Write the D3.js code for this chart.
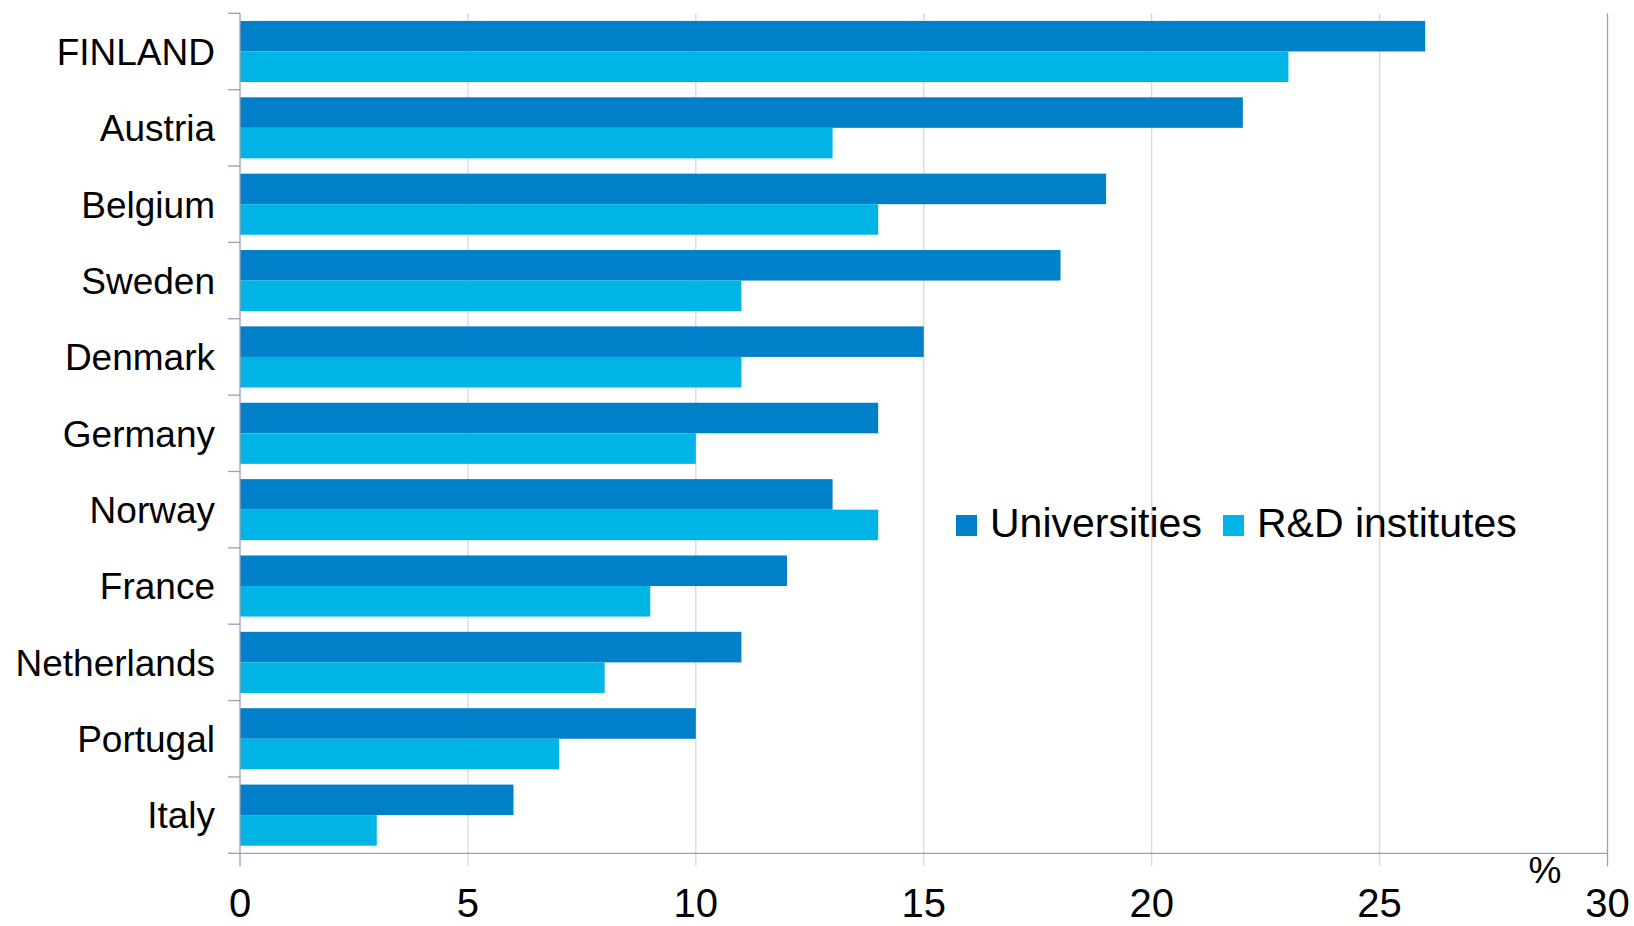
<!DOCTYPE html>
<html>
<head>
<meta charset="utf-8">
<script src="https://cdn.jsdelivr.net/npm/d3@7"></script>
<style>
  html, body { margin: 0; padding: 0; background: #ffffff; }
  svg { display: block; }
  text { font-family: "Liberation Sans", Arial, sans-serif; fill: #000; }
</style>
</head>
<body>
<svg id="chart" width="1634" height="926"></svg>
<script>
const categories = ["FINLAND", "Austria", "Belgium", "Sweden", "Denmark", "Germany", "Norway", "France", "Netherlands", "Portugal", "Italy"];
const universities = [26, 22, 19, 18, 15, 14, 13, 12, 11, 10, 6];
const rdInstitutes = [23, 13, 14, 11, 11, 10, 14, 9, 8, 7, 3];
const seriesNames = ["Universities", "R&D institutes"];
const xTicks = [0, 5, 10, 15, 20, 25, 30];
const unitLabel = "%";

(function () {
const colors = ["#0080C8", "#00B5E5"];

const svg = d3.select("#chart");
const mLeft = 240, mRight = 1607.5, mTop = 13.3, mBottom = 853.3;

const x = d3.scaleLinear().domain([0, 30]).range([mLeft, mRight]);
const y = d3.scaleBand().domain(categories).range([mTop, mBottom]).paddingInner(0.2).paddingOuter(0.1);
const ySub = d3.scaleBand().domain(seriesNames).range([0, y.bandwidth()]);

// vertical gridlines
svg.append("g").selectAll("line").data(xTicks.filter(d => d > 0 && d < 30)).join("line")
  .attr("x1", d => x(d)).attr("x2", d => x(d))
  .attr("y1", mTop).attr("y2", mBottom + 13)
  .attr("stroke", "#D3D8E6").attr("stroke-width", 1.3);

// right edge line at 30
svg.append("line")
  .attr("x1", x(30)).attr("x2", x(30)).attr("y1", mTop).attr("y2", mBottom + 13)
  .attr("stroke", "#98A0BC").attr("stroke-width", 1.3);

// bars
const data = categories.map((c, i) => ({ c, vals: [universities[i], rdInstitutes[i]] }));
const groups = svg.append("g").selectAll("g").data(data).join("g")
  .attr("transform", d => `translate(0,${y(d.c)})`);
groups.selectAll("rect").data(d => d.vals.map((v, j) => ({ v, s: seriesNames[j], j }))).join("rect")
  .attr("x", x(0))
  .attr("y", d => ySub(d.s))
  .attr("width", d => x(d.v) - x(0))
  .attr("height", ySub.bandwidth())
  .attr("fill", d => colors[d.j]);

// left axis line and category ticks
const boundaries = d3.range(categories.length + 1).map(i => mTop + i * y.step());
svg.append("line")
  .attr("x1", x(0)).attr("x2", x(0)).attr("y1", mTop).attr("y2", mBottom + 13)
  .attr("stroke", "#98A0BC").attr("stroke-width", 1.3);
svg.append("g").selectAll("line").data(boundaries).join("line")
  .attr("x1", x(0) - 12).attr("x2", x(0))
  .attr("y1", d => d).attr("y2", d => d)
  .attr("stroke", "#98A0BC").attr("stroke-width", 1.3);

// bottom axis line
svg.append("line")
  .attr("x1", x(0)).attr("x2", x(30)).attr("y1", mBottom).attr("y2", mBottom)
  .attr("stroke", "#98A0BC").attr("stroke-width", 1.3);

// category labels
svg.append("g").selectAll("text").data(categories).join("text")
  .attr("x", 215)
  .attr("y", d => y(d) + y.bandwidth() / 2)
  .attr("dy", "0.36em")
  .attr("text-anchor", "end")
  .attr("font-size", 37)
  .text(d => d);

// x tick labels
svg.append("g").selectAll("text").data(xTicks).join("text")
  .attr("x", d => x(d))
  .attr("y", 917)
  .attr("text-anchor", "middle")
  .attr("font-size", 40)
  .text(d => d);

// unit label
svg.append("text")
  .attr("x", 1545).attr("y", 883)
  .attr("text-anchor", "middle")
  .attr("font-size", 37)
  .text(unitLabel);

// legend
const legendPos = [956, 1223];
const leg = svg.append("g").selectAll("g").data(seriesNames).join("g")
  .attr("transform", (d, i) => `translate(${legendPos[i]},0)`);
leg.append("rect").attr("x", 0).attr("y", 515).attr("width", 21).attr("height", 21)
  .attr("fill", (d, i) => colors[i]);
leg.append("text").attr("x", 34).attr("y", 536.7).attr("font-size", 41).text(d => d);
})();
</script>
</body>
</html>
